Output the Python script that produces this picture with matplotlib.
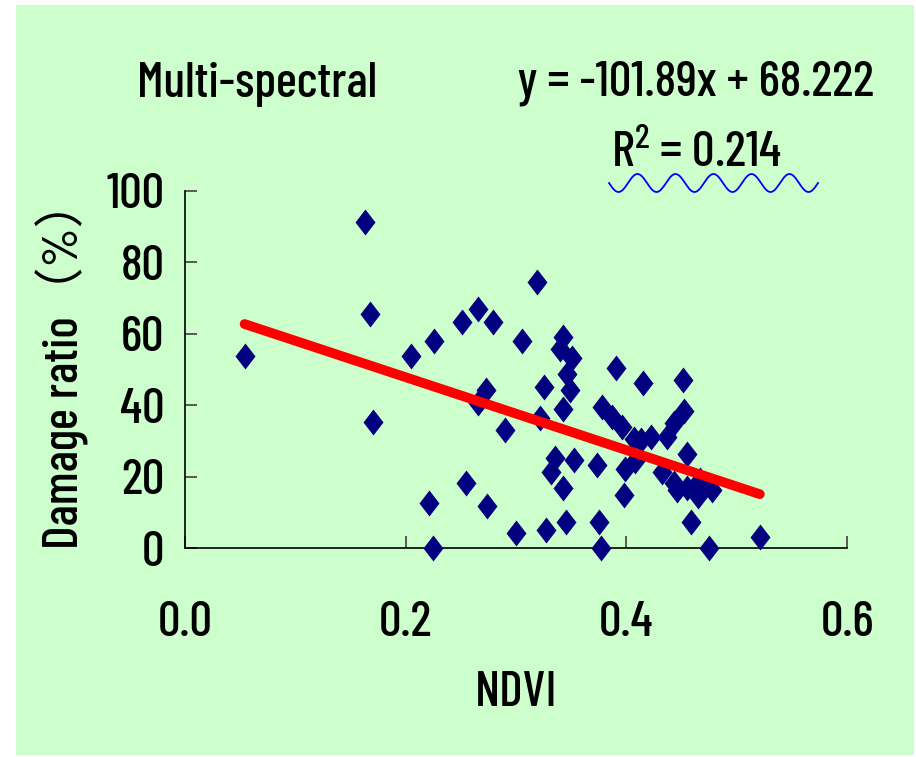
import numpy as np
import matplotlib
matplotlib.use("Agg")
import matplotlib.pyplot as plt
from matplotlib.patches import Rectangle
from matplotlib.path import Path

# readings: NDVI (x) against damage ratio in % (y)
ndvi = [0.054, 0.163, 0.168, 0.170, 0.205, 0.221, 0.225, 0.226, 0.251, 0.255,
        0.266, 0.266, 0.273, 0.274, 0.279, 0.290, 0.300, 0.305, 0.319, 0.322,
        0.325, 0.327, 0.332, 0.335, 0.343, 0.343, 0.340, 0.351, 0.346, 0.349,
        0.343, 0.345, 0.353, 0.373, 0.375, 0.377, 0.378, 0.387, 0.391, 0.396,
        0.399, 0.398, 0.407, 0.408, 0.413, 0.415, 0.422, 0.432, 0.437, 0.443,
        0.443, 0.446, 0.451, 0.452, 0.455, 0.455, 0.459, 0.467, 0.465, 0.475,
        0.478, 0.521]
damage = [53.7, 91.2, 65.4, 35.4, 53.7, 12.7, 0.0, 58.0, 63.4, 18.2,
          66.8, 40.5, 44.2, 11.8, 63.4, 33.2, 4.2, 58.0, 74.5, 36.3,
          45.0, 5.1, 21.4, 25.2, 17.0, 59.0, 55.8, 53.3, 48.8, 44.2,
          39.0, 7.4, 24.7, 23.3, 7.4, 0.0, 39.6, 36.8, 50.3, 34.0,
          22.3, 14.8, 30.7, 24.5, 30.3, 46.1, 31.0, 21.4, 31.0, 18.3,
          34.9, 16.3, 47.2, 38.4, 16.8, 26.3, 7.4, 19.1, 14.6, 0.0,
          16.3, 3.1]

# trend line reported on the chart
slope = -101.89
intercept = 68.222
r2 = 0.214

x_ticks = [0.0, 0.2, 0.4, 0.6]
x_tick_labels = ["0.0", "0.2", "0.4", "0.6"]
y_ticks = [0, 20, 40, 60, 80, 100]

W, H = 916, 757
green = "#CCFFCC"
plt.rcParams["font.family"] = ["Barlow Condensed", "Noto Sans CJK SC", "DejaVu Sans"]
plt.rcParams["font.weight"] = 500
plt.rcParams["mathtext.fontset"] = "custom"
plt.rcParams["mathtext.rm"] = "Barlow Condensed:medium"
plt.rcParams["mathtext.it"] = "Barlow Condensed:medium"
FS = 36


def fx(x):
    return x / W


def fy(y):
    return 1 - y / H


fig = plt.figure(figsize=(W / 100, H / 100), dpi=100)
fig.patch.set_facecolor("white")
fig.patches.append(Rectangle((fx(16), fy(755)), (914 - 16) / W, (755 - 5) / H,
                             transform=fig.transFigure, facecolor=green,
                             edgecolor="none", zorder=-10))

ax = fig.add_axes([fx(185), fy(548.3), (847 - 185) / W, (548.3 - 190.7) / H])
ax.patch.set_alpha(0)

# taller-than-wide diamond like the Excel marker
diamond = Path([(0, 1), (0.77, 0), (0, -1), (-0.77, 0), (0, 1)],
               [Path.MOVETO, Path.LINETO, Path.LINETO, Path.LINETO, Path.CLOSEPOLY])
ax.plot(ndvi, damage, linestyle="none", marker=diamond, markersize=18.7,
        color="#000080", markeredgewidth=0, zorder=3, clip_on=False)

xfit = np.array([min(ndvi), max(ndvi)])
ax.plot(xfit, slope * xfit + intercept, color="#FF0000", linewidth=7,
        solid_capstyle="round", zorder=4)

ax.set_xlim(0, 0.6)
ax.set_ylim(0, 100)
ax.set_xticks(x_ticks)
ax.set_xticklabels(x_tick_labels)
ax.set_yticks(y_ticks)
for s in ["top", "right"]:
    ax.spines[s].set_visible(False)
for s in ["left", "bottom"]:
    ax.spines[s].set_color("black")
    ax.spines[s].set_linewidth(1.2)
ax.tick_params(axis="both", direction="in", length=8.5, width=1.2,
               color="#404040", labelsize=FS)
ax.tick_params(axis="x", pad=38)
ax.tick_params(axis="y", pad=15)

fig.text(fx(516), fy(694), "NDVI", fontsize=FS, ha="center", va="center")
fig.text(fx(62), fy(363), "Damage ratio（%）", fontsize=FS, rotation=90,
         ha="center", va="center")

fig.text(fx(257), fy(97), "Multi-spectral", fontsize=FS, ha="center",
         va="baseline")
fig.text(fx(696), fy(95), "y = %.2fx + %.3f" % (slope, intercept),
         fontsize=FS, ha="center", va="baseline")
fig.text(fx(696), fy(167), "R$^{2}$ = %.3f" % r2, fontsize=FS, ha="center",
         va="baseline")

# spell-check style squiggle under the R2 text
t = np.linspace(0, 1, 300)
fig.add_artist(plt.Line2D(fx(609 + 209 * t),
                          fy(183 - 9 * np.sin(2 * np.pi * 5.5 * t + np.pi)),
                          color="#0000FF", linewidth=1.3))

fig.savefig("out.png", dpi=100)
